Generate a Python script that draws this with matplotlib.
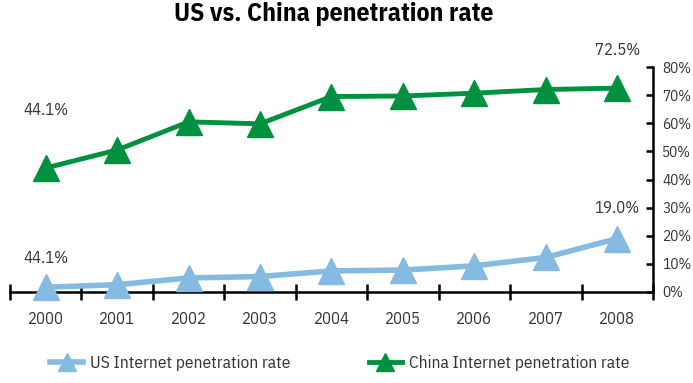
import matplotlib
matplotlib.use("Agg")
import matplotlib.pyplot as plt
from matplotlib.ticker import FixedLocator, NullFormatter, PercentFormatter

plt.rcParams["font.family"] = ["IBM Plex Sans Condensed", "Archivo Narrow",
                               "Liberation Sans Narrow", "DejaVu Sans"]

years = ["2000", "2001", "2002", "2003", "2004", "2005", "2006", "2007", "2008"]
us_rate = [1.7, 2.6, 5.0, 5.5, 7.5, 7.8, 9.3, 12.3, 19.0]
china_rate = [44.1, 50.5, 60.5, 59.8, 69.5, 69.7, 70.7, 72.0, 72.5]

# value labels shown above selected points
us_labels = {0: "44.1%", 8: "19.0%"}
china_labels = {0: "44.1%", 8: "72.5%"}

US_COLOR = "#85bae2"
CHINA_COLOR = "#009140"
TEXT_COLOR = "#333333"

fig = plt.figure(figsize=(6.93, 3.83), dpi=100)
ax = fig.add_axes([0.0144, 0.2376, 0.9278, 0.5874])

x = list(range(len(years)))
ax.plot(x, us_rate, color=US_COLOR, linewidth=4, marker="^", markersize=19,
        label="US Internet penetration rate", clip_on=False, zorder=3)
ax.plot(x, china_rate, color=CHINA_COLOR, linewidth=3.5, marker="^", markersize=19,
        label="China Internet penetration rate", clip_on=False, zorder=3)

# label offsets (points above the marker), per label
us_off = {0: 15, 8: 16}
china_off = {0: 36, 8: 22}
for i, txt in us_labels.items():
    ax.annotate(txt, (x[i], us_rate[i]), xytext=(0, us_off[i]),
                textcoords="offset points", ha="center", va="bottom",
                fontsize=12, color=TEXT_COLOR)
for i, txt in china_labels.items():
    ax.annotate(txt, (x[i], china_rate[i]), xytext=(0, china_off[i]),
                textcoords="offset points", ha="center", va="bottom",
                fontsize=12, color=TEXT_COLOR)

ax.set_xlim(-0.5, len(years) - 0.5)
ax.set_ylim(0, 80)

# only bottom and right spines
for side in ("top", "left"):
    ax.spines[side].set_visible(False)
ax.spines["bottom"].set_linewidth(1.8)
ax.spines["right"].set_linewidth(1.8)

# x axis: ticks between categories, labels centred on categories
ax.xaxis.set_major_locator(FixedLocator([i - 0.5 for i in range(len(years) + 1)]))
ax.xaxis.set_major_formatter(NullFormatter())
ax.xaxis.set_minor_locator(FixedLocator(x))
ax.set_xticklabels(years, minor=True)
ax.tick_params(axis="x", which="major", direction="inout", length=12, width=1.8)
ax.tick_params(axis="x", which="minor", length=0, pad=14, labelsize=12,
               labelcolor=TEXT_COLOR)

# y axis on the right, ticks pointing into the plot
ax.yaxis.tick_right()
ax.set_yticks(range(0, 81, 10))
ax.yaxis.set_major_formatter(PercentFormatter(decimals=0))
ax.tick_params(axis="y", length=5, width=1.8, pad=1.5, labelsize=11,
               labelcolor=TEXT_COLOR)
for t in ax.yaxis.get_major_ticks():
    t.tick2line.set_marker(0)

fig.suptitle("US vs. China penetration rate", fontsize=18.5, fontweight="bold",
             x=0.482, y=0.995)

fig.legend(loc="lower center", ncol=2, frameon=False, fontsize=12.5,
           bbox_to_anchor=(0.49, -0.01), columnspacing=4.5, handlelength=1.9,
           handletextpad=0.4, markerscale=0.7, labelcolor=TEXT_COLOR)

fig.savefig("out.png", dpi=100)
